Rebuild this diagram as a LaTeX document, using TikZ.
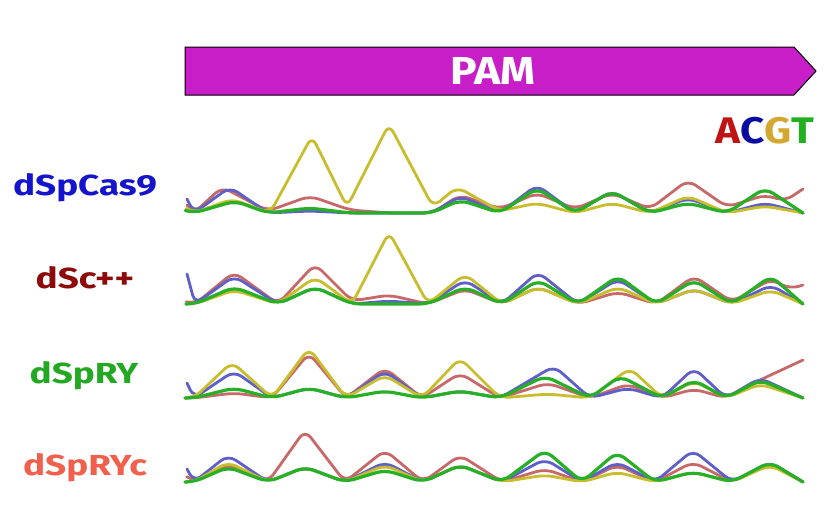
\documentclass[tikz,border=0pt]{standalone}
\usepackage{fontspec}
\setmainfont{Fira Sans}
\newfontfamily\lblfont[FakeStretch=1.27]{Fira Sans}
\newfontfamily\pamfont[FakeStretch=1.14]{Fira Sans}
\definecolor{pamfill}{RGB}{200,30,200}
\definecolor{lblblue}{RGB}{20,20,205}
\definecolor{lblred}{RGB}{140,10,10}
\definecolor{lblgreen}{RGB}{34,168,34}
\definecolor{lblsalmon}{RGB}{240,96,76}
\definecolor{baseA}{RGB}{192,20,20}
\definecolor{baseC}{RGB}{10,10,160}
\definecolor{baseG}{RGB}{212,168,48}
\definecolor{baseT}{RGB}{32,176,32}
\definecolor{trA}{RGB}{200,105,105}
\definecolor{trC}{RGB}{95,95,200}
\definecolor{trG}{RGB}{200,190,45}
\definecolor{trT}{RGB}{40,175,40}
\tikzset{
  trace/.style={line width=2.8pt,rounded corners=9pt,line join=round,line cap=round},
  traceA/.style={trace,draw=trA},
  traceC/.style={trace,draw=trC},
  traceG/.style={trace,draw=trG},
  traceT/.style={trace,draw=trT,line width=3.2pt},
  lbl/.style={font=\lblfont\bfseries\fontsize{29}{32}\selectfont,anchor=base,inner sep=0pt},
}
% #1 style, #2 baseline, #3 start height, #4 list x/h
\newcommand\chrom[4]{\draw[#1] (187,{#2-#3}) \foreach \xx/\hh in {#4}{ -- (\xx,{#2-\hh}) };}
\begin{document}
\begin{tikzpicture}[x=1pt,y=-1pt]
\useasboundingbox[fill=white] (0,0) rectangle (833,515);
% PAM arrow
\draw[fill=pamfill,line width=1pt] (185,47) -- (794,47) -- (816,71) -- (794,95) -- (185,95) -- cycle;
\node[font=\pamfont\bfseries\fontsize{39}{40}\selectfont,text=white,anchor=base,inner sep=0pt] (pam) at (493,84) {PAM};
% ACGT
\node[font=\pamfont\bfseries\fontsize{37}{40}\selectfont,anchor=base,inner sep=0pt] (acgt) at (765,143)
  {\textcolor{baseA}{A}\textcolor{baseC}{C}\textcolor{baseG}{G}\textcolor{baseT}{T}};
% labels
\node[lbl,text=lblblue] (l1) at (85,195) {dSpCas9};
\node[lbl,text=lblred] (l2) at (85,288) {dSc++};
\node[lbl,text=lblgreen] (l3) at (84,383) {dSpRY};
\node[lbl,text=lblsalmon] (l4) at (85,475) {dSpRYc};
% Row 1
\chrom{traceA}{213}{8}{194/0,222/26,268/2,310/17,350/3,390/0,432/0,460/18,500/4,537/20,575/4,612/20,650/4,688/33,727/6,765/18,785/12,803/24}
\chrom{traceC}{213}{14}{194/0,230/26,268/0,310/2,350/0,390/0,432/0,460/17,500/0,537/28,575/0,612/22,650/0,688/15,727/0,765/10,803/0}
\chrom{traceG}{213}{4}{194/0,232/14,270/0,312/77,347/6,389/89,433/6,457/26,500/2,537/10,575/0,612/10,650/0,688/17,727/0,765/7,803/0}
\chrom{traceT}{213}{2}{194/0,235/12,268/0,310/5,350/0,390/0,432/0,460/13,500/0,537/25,575/0,612/22,650/0,688/10,727/0,765/25,803/0}
% Row 2
\chrom{traceA}{304}{2}{195/0,234/32,278/0,315/40,352/3,389/9,428/0,465/15,502/0,538/17,578/0,618/12,656/0,694/28,732/2,771/25,790/15,803/19}
\chrom{traceC}{304}{30}{195/0,234/28,278/0,315/17,352/0,389/3,428/0,465/24,502/0,538/32,578/0,618/25,656/0,694/15,732/0,771/19,803/0}
\chrom{traceG}{304}{0}{195/0,234/14,278/0,315/27,352/0,389/72,428/0,465/30,502/0,538/17,578/0,618/17,656/0,694/15,732/0,771/14,803/0}
\chrom{traceT}{304}{0}{195/0,234/17,278/0,315/17,352/0,389/0,428/0,465/17,502/0,538/24,578/0,618/28,656/0,694/24,732/0,771/28,803/0}
% Row 3
\chrom{traceA}{398}{0}{194/0,234/5,272/0,309/45,346/0,385/30,422/0,460/25,500/0,548/15,590/0,628/14,662/0,694/9,726/0,760/18,803/38}
\chrom{traceC}{398}{15}{194/0,234/27,272/0,309/10,346/0,385/27,422/0,460/7,500/0,554/32,590/0,628/10,662/0,694/30,726/0,760/20,803/0}
\chrom{traceG}{398}{0}{194/0,232/36,272/0,309/50,346/0,385/23,422/0,460/40,500/0,548/4,590/0,630/30,662/0,694/17,726/0,760/14,803/0}
\chrom{traceT}{398}{0}{194/0,234/10,272/0,309/10,346/0,385/7,422/0,460/7,500/0,545/22,590/0,620/22,662/0,694/18,726/0,760/18,803/0}
% Row 4
\chrom{traceA}{482}{5}{194/0,228/18,268/0,305/52,345/0,385/32,423/0,460/27,502/0,545/13,582/0,617/17,655/0,693/20,732/0,770/20,803/0}
\chrom{traceC}{482}{13}{194/0,228/27,268/0,305/15,345/0,385/20,423/0,460/17,502/0,545/23,582/0,617/20,655/0,693/32,732/0,770/20,803/0}
\chrom{traceG}{482}{0}{194/0,228/20,268/0,305/15,345/0,385/17,423/0,460/17,502/0,545/7,582/0,617/10,655/0,693/10,732/0,770/17,803/0}
\chrom{traceT}{482}{0}{194/0,228/15,268/0,305/15,345/0,385/12,423/0,460/17,502/0,545/32,582/0,617/30,655/0,693/10,732/0,770/20,803/0}
\end{tikzpicture}
\end{document}
